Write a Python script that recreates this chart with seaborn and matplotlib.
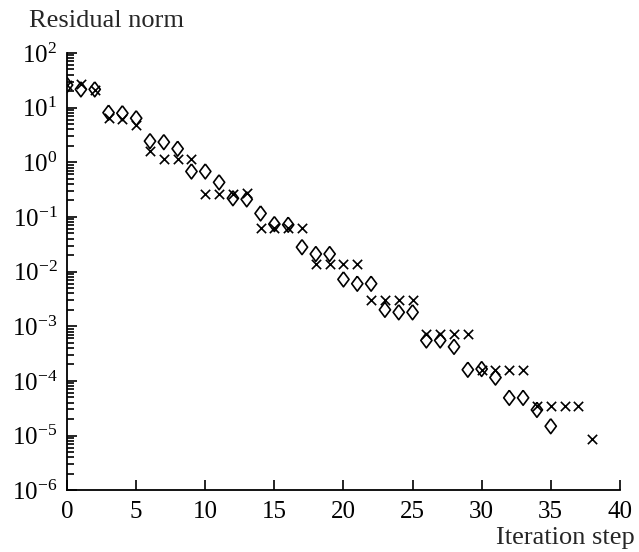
import numpy as np
import pandas as pd
import matplotlib
matplotlib.use('Agg')
import matplotlib.pyplot as plt
import matplotlib.ticker as mticker
import seaborn as sns

# --- dados ---
passos_losango = list(range(0, 36))
residuo_losango = [26, 21.6, 21.6, 8.1, 7.9, 6.4, 2.44, 2.34, 1.77, 0.68, 0.68,
                   0.43, 0.22, 0.21, 0.116, 0.074, 0.072, 0.028, 0.021, 0.021,
                   0.0072, 0.006, 0.006, 0.002, 0.0018, 0.0018, 5.5e-4, 5.5e-4,
                   4.2e-4, 1.6e-4, 1.65e-4, 1.15e-4, 4.9e-5, 4.9e-5, 2.95e-5,
                   1.48e-5]

passos_x = list(range(0, 39))
residuo_x = [26, 27, 21, 6.5, 6.3, 4.8, 1.6, 1.13, 1.13, 1.13, 0.26, 0.26,
             0.26, 0.27, 0.062, 0.062, 0.062, 0.062, 0.0135, 0.0135, 0.0135,
             0.0135, 0.003, 0.003, 0.003, 0.003, 7.1e-4, 7.1e-4, 7.1e-4,
             7.1e-4, 1.6e-4, 1.6e-4, 1.6e-4, 1.6e-4, 3.5e-5, 3.5e-5, 3.5e-5,
             3.5e-5, 8.5e-6]

sns.set_style('ticks')
plt.rcParams['font.family'] = ['Liberation Serif', 'DejaVu Serif']
plt.rcParams['mathtext.fontset'] = 'custom'
plt.rcParams['mathtext.rm'] = 'Liberation Serif'
plt.rcParams['mathtext.it'] = 'Liberation Serif:italic'
plt.rcParams['mathtext.bf'] = 'Liberation Serif:bold'

df_los = pd.DataFrame({'passo': passos_losango, 'residuo': residuo_losango})
df_x = pd.DataFrame({'passo': passos_x, 'residuo': residuo_x})

losango = [(0, 1), (0.75, 0), (0, -1), (-0.75, 0), (0, 1)]

fig = plt.figure(figsize=(6.39, 5.52), dpi=100)
ax = fig.add_axes([0.105, 0.112, 0.865, 0.792])

sns.scatterplot(data=df_x, x='passo', y='residuo', marker='x', s=45,
                color='black', linewidth=1.2, ax=ax, zorder=3)
sns.scatterplot(data=df_los, x='passo', y='residuo', marker=losango, s=115,
                facecolor='none', edgecolor='black', linewidth=1.2, ax=ax,
                zorder=4)

ax.set_yscale('log')
ax.set_ylim(1e-6, 1e2)
ax.set_xlim(0, 40)
ax.set_xticks(range(0, 41, 5))
ax.yaxis.set_major_locator(mticker.LogLocator(base=10, numticks=20))
ax.yaxis.set_minor_locator(mticker.LogLocator(base=10, subs=np.arange(2, 10), numticks=20))
ax.yaxis.set_major_formatter(mticker.LogFormatterMathtext())
ax.yaxis.set_minor_formatter(mticker.NullFormatter())

ax.tick_params(axis='both', which='both', direction='in', labelsize=18,
               colors='black', width=1.2)
ax.tick_params(axis='y', which='major', length=7, pad=7)
ax.tick_params(axis='y', which='minor', length=5)
ax.tick_params(axis='x', which='major', length=7, pad=8)
ax.set_xlabel('')
ax.set_ylabel('')
sns.despine(ax=ax)
for lado in ['left', 'bottom']:
    ax.spines[lado].set_linewidth(1.3)
    ax.spines[lado].set_color('black')

fig.text(0.045, 0.951, 'Residual norm', fontsize=19, va='baseline', ha='left')
fig.text(0.776, 0.014, 'Iteration step', fontsize=19, va='baseline', ha='left')

fig.savefig('out.png', dpi=100, facecolor='white')
